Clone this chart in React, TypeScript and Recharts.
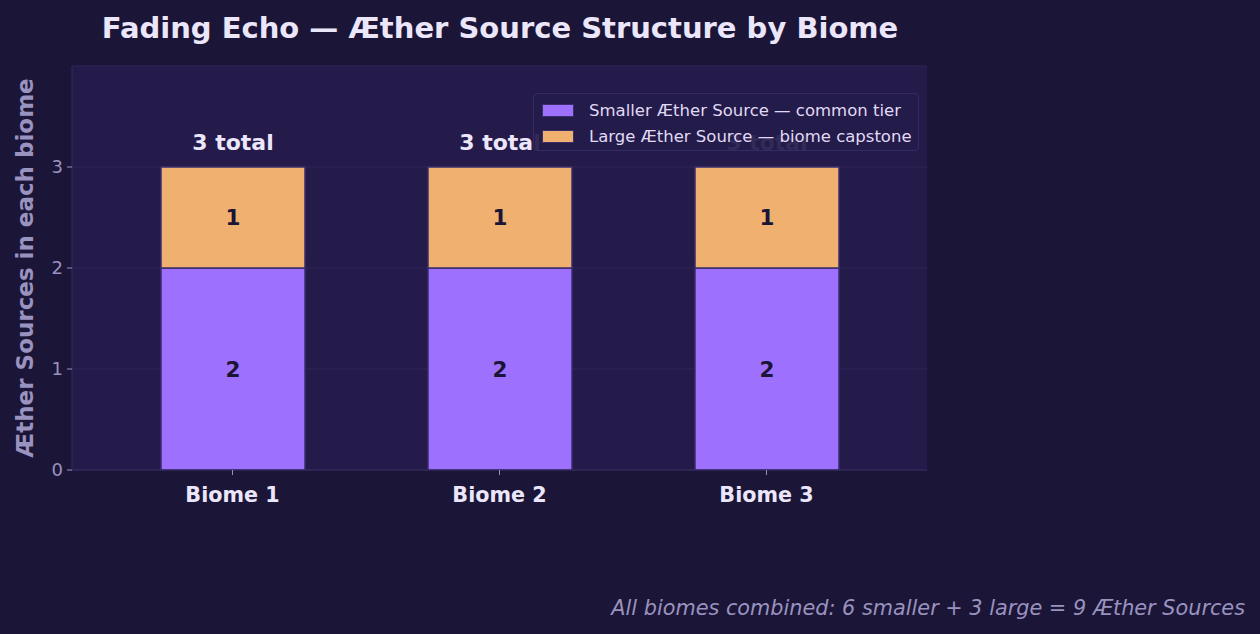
import {
  Bar,
  BarChart,
  CartesianGrid,
  LabelList,
  Legend,
  XAxis,
  YAxis,
} from "recharts";

const biomes = ["Biome 1", "Biome 2", "Biome 3"];
const smallerSources = [2, 2, 2];
const largeSources = [1, 1, 1];
const yTicks = [0, 1, 2, 3];

const seriesNames = {
  smaller: "Smaller Æther Source — common tier",
  large: "Large Æther Source — biome capstone",
};

const data = biomes.map((biome, i) => ({
  biome,
  smaller: smallerSources[i],
  large: largeSources[i],
  total: smallerSources[i] + largeSources[i],
}));

const BG = "#1b1637";
const PLOT_BG = "#241b4a";
const PURPLE = "#9d71fd";
const ORANGE = "#efb070";
const LIGHT = "#ece6fb";
const MUTED = "#9a92bf";
const EDGE = "#3a2d6e";

const LegendBox = () => (
  <div
    style={{
      background: "rgba(36,27,74,0.93)",
      border: "1px solid #352b62",
      borderRadius: 4,
      padding: "3px 8px",
      boxSizing: "border-box",
      width: 386,
      height: 58,
      fontSize: 16.5,
      color: "#e0daf5",
      whiteSpace: "nowrap",
    }}
  >
    {[
      { name: seriesNames.smaller, color: PURPLE },
      { name: seriesNames.large, color: ORANGE },
    ].map((item) => (
      <div
        key={item.name}
        style={{ display: "flex", alignItems: "center", height: 26 }}
      >
        <span
          style={{
            display: "inline-block",
            width: 30,
            height: 11,
            background: item.color,
            border: `1.5px solid ${EDGE}`,
            marginRight: 15,
            flexShrink: 0,
          }}
        />
        <span>{item.name}</span>
      </div>
    ))}
  </div>
);

const App = () => {
  return (
    <div
      style={{
        position: "absolute",
        left: 0,
        top: 0,
        width: 1260,
        height: 634,
        background: BG,
        fontFamily: "'DejaVu Sans', sans-serif",
        overflow: "hidden",
      }}
    >
      <svg
        width={1260}
        height={634}
        style={{ position: "absolute", left: 0, top: 0, pointerEvents: "none" }}
      >
        <text
          x={500}
          y={38}
          textAnchor="middle"
          fontSize={29}
          fontWeight="bold"
          fill={LIGHT}
        >
          Fading Echo — Æther Source Structure by Biome
        </text>
        <text
          x={33}
          y={268}
          transform="rotate(-90 33 268)"
          textAnchor="middle"
          fontSize={23}
          fontWeight="bold"
          fill={MUTED}
        >
          Æther Sources in each biome
        </text>
        <text
          x={1245}
          y={615}
          textAnchor="end"
          fontSize={20.8}
          fontStyle="italic"
          fill={MUTED}
        >
          All biomes combined: 6 smaller + 3 large = 9 Æther Sources
        </text>
      </svg>
      <div style={{ position: "absolute", left: 0, top: 0 }}>
        <BarChart
          width={1260}
          height={634}
          data={data}
          margin={{ top: 66, right: 333, bottom: 134, left: 32 }}
        >
          <CartesianGrid
            vertical={false}
            fill={PLOT_BG}
            stroke="#2f2659"
            strokeWidth={1}
          />
          <XAxis
            dataKey="biome"
            height={30}
            padding={{ left: 27, right: 27 }}
            tickLine={{ stroke: MUTED }}
            tickSize={5}
            tickMargin={12}
            axisLine={{ stroke: "#352b62" }}
            tick={{ fill: LIGHT, fontSize: 20.7, fontWeight: "bold" }}
          />
          <XAxis
            xAxisId="top"
            dataKey="biome"
            orientation="top"
            height={0}
            tick={false}
            tickLine={false}
            axisLine={{ stroke: "#2e2558" }}
          />
          <YAxis
            width={40}
            domain={[0, 4]}
            ticks={yTicks}
            allowDataOverflow
            tickSize={5}
            tickMargin={4}
            tickLine={{ stroke: MUTED }}
            axisLine={{ stroke: "#352b62" }}
            tick={{ fill: MUTED, fontSize: 18 }}
          />
          <YAxis
            yAxisId="right"
            orientation="right"
            width={0}
            domain={[0, 4]}
            tick={false}
            tickLine={false}
            axisLine={{ stroke: "#352b62" }}
          />
          <Legend
            layout="vertical"
            align="center"
            verticalAlign="middle"
            content={() => <LegendBox />}
            wrapperStyle={{ left: 533, top: 93, width: 386, height: 58 }}
          />
          <Bar
            dataKey="smaller"
            name={seriesNames.smaller}
            stackId="a"
            fill={PURPLE}
            stroke={EDGE}
            strokeWidth={1.5}
            barSize={144}
            isAnimationActive={false}
          >
            <LabelList
              dataKey="smaller"
              position="center"
              fill="#1b1435"
              fontSize={21.5}
              fontWeight="bold"
            />
          </Bar>
          <Bar
            dataKey="large"
            name={seriesNames.large}
            stackId="a"
            fill={ORANGE}
            stroke={EDGE}
            strokeWidth={1.5}
            barSize={144}
            isAnimationActive={false}
          >
            <LabelList
              dataKey="large"
              position="center"
              fill="#1b1435"
              fontSize={21.5}
              fontWeight="bold"
            />
            <LabelList
              dataKey="total"
              position="top"
              offset={17}
              fill={LIGHT}
              fontSize={22}
              fontWeight="bold"
              formatter={(v: number) => `${v} total`}
            />
          </Bar>
        </BarChart>
      </div>
    </div>
  );
};

export default App;
